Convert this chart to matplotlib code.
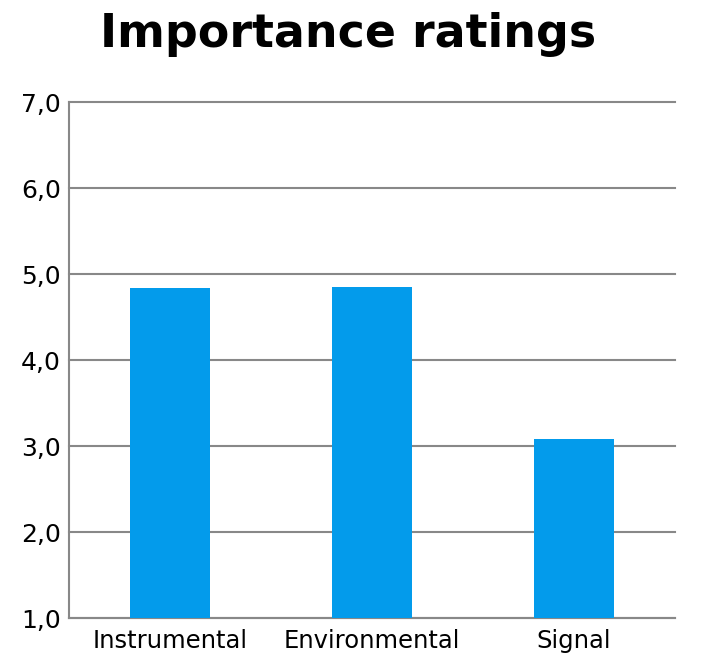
import matplotlib
matplotlib.use("Agg")
import matplotlib.pyplot as plt
from matplotlib.ticker import FuncFormatter

categories = ["Instrumental", "Environmental", "Signal"]
ratings = [4.84, 4.85, 3.08]
y_ticks = [1.0, 2.0, 3.0, 4.0, 5.0, 6.0, 7.0]

grid_color = "#888888"
bar_color = "#039BEB"

fig = plt.figure(figsize=(7.13, 6.59), dpi=100)
ax = fig.add_axes([0.0968, 0.0618, 0.8499, 0.7834])

x = range(len(categories))
ax.bar(x, [r - 1.0 for r in ratings], bottom=1.0, width=0.4,
       color=bar_color, zorder=3)

ax.set_xlim(-0.5, len(categories) - 0.5)
ax.set_ylim(1.0, 7.0)
ax.set_yticks(y_ticks)
ax.yaxis.set_major_formatter(FuncFormatter(lambda v, _: f"{v:.1f}".replace(".", ",")))
ax.set_xticks(list(x))
ax.set_xticklabels(categories)

ax.grid(axis="y", color=grid_color, linewidth=1.5, zorder=0)
# keep the top gridline full width at the axes edge
for line in ax.get_ygridlines():
    line.set_clip_on(False)
for side in ("top", "right"):
    ax.spines[side].set_visible(False)
for side in ("left", "bottom"):
    ax.spines[side].set_color(grid_color)
    ax.spines[side].set_linewidth(1.5)

ax.tick_params(axis="y", length=0, pad=6, labelsize=18)
ax.tick_params(axis="x", length=0, pad=8, labelsize=17.5)

fig.text(348.5 / 713, 1 - 47 / 659, "Importance ratings", ha="center",
         va="baseline", fontsize=33, fontweight="bold")

fig.savefig("out.png", dpi=100)
